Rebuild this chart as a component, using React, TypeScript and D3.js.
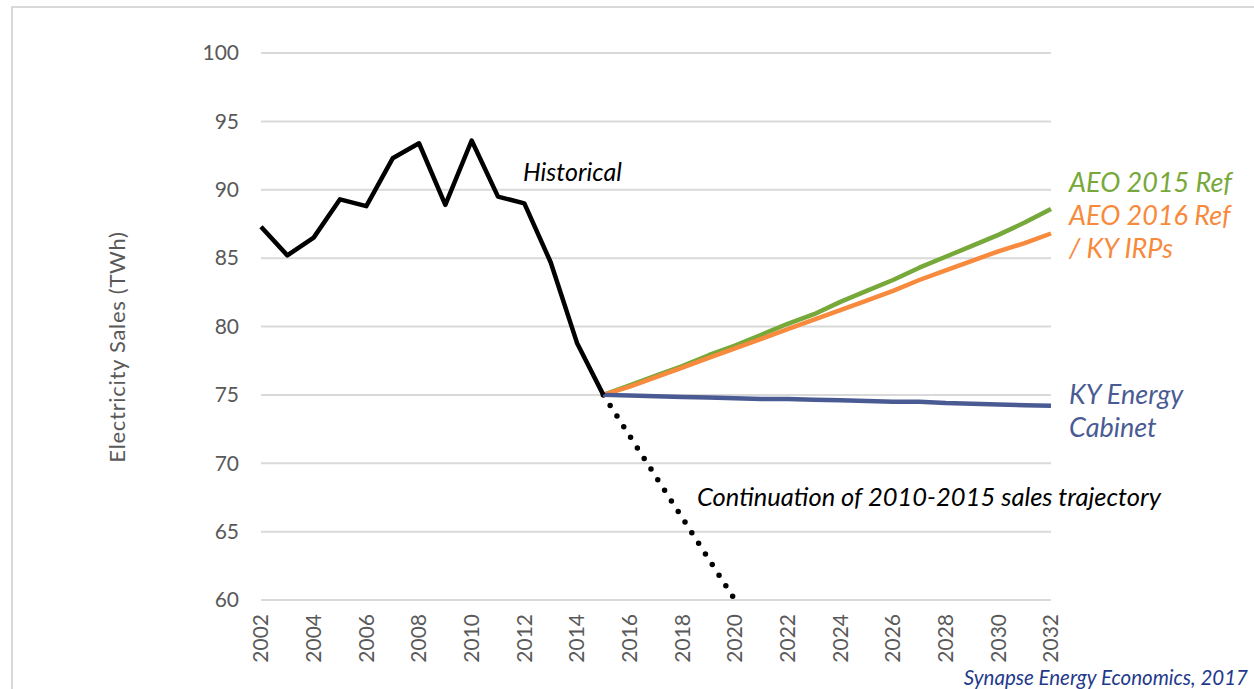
import React from "react";
import * as d3 from "d3";

const histYears = [2002, 2003, 2004, 2005, 2006, 2007, 2008, 2009, 2010, 2011, 2012, 2013, 2014, 2015];
const histValues = [87.3, 85.2, 86.5, 89.3, 88.8, 92.3, 93.4, 88.9, 93.6, 89.5, 89.0, 84.7, 78.8, 75.0];

const projYears = [2015, 2016, 2017, 2018, 2019, 2020, 2021, 2022, 2023, 2024, 2025, 2026, 2027, 2028, 2029, 2030, 2031, 2032];
const aeo2015 = [75.0, 75.7, 76.4, 77.1, 77.9, 78.6, 79.4, 80.2, 80.9, 81.8, 82.6, 83.4, 84.3, 85.1, 85.9, 86.7, 87.6, 88.6];
const aeo2016 = [75.0, 75.6, 76.3, 77.0, 77.7, 78.4, 79.1, 79.8, 80.5, 81.2, 81.9, 82.6, 83.4, 84.1, 84.8, 85.5, 86.1, 86.8];
const kyCabinet = [75.0, 74.95, 74.9, 74.85, 74.8, 74.75, 74.7, 74.7, 74.65, 74.6, 74.55, 74.5, 74.5, 74.4, 74.35, 74.3, 74.25, 74.2];

const trendYears = [2015, 2020];
const trendValues = [75.0, 60.0];

const yTicks = [60, 65, 70, 75, 80, 85, 90, 95, 100];
const xTicks = [2002, 2004, 2006, 2008, 2010, 2012, 2014, 2016, 2018, 2020, 2022, 2024, 2026, 2028, 2030, 2032];

const COLORS = {
  hist: "#000000",
  aeo15: "#77A83A",
  aeo16: "#F78A3C",
  ky: "#4A5B94",
  grid: "#D9D9D9",
  tick: "#595959",
  source: "#1F3A8C",
};

export default function App() {
  const W = 1254;
  const H = 689;
  const x = d3.scaleLinear().domain([2002, 2032]).range([261, 1051]);
  const y = d3.scaleLinear().domain([60, 100]).range([600, 53]);

  const line = (xs: number[], ys: number[]) =>
    d3
      .line<number>()
      .x((_, i) => x(xs[i]))
      .y((d) => y(d))(ys) as string;

  const tickFont = "Lato, 'Open Sans', sans-serif";
  const labelFont = "Lato, 'Open Sans', sans-serif";

  return (
    <svg
      width={W}
      height={H}
      style={{ position: "absolute", left: 0, top: 0, background: "#fff" }}
    >
      <rect x={12} y={7} width={1400} height={900} fill="none" stroke="#D9D9D9" strokeWidth={2} />

      {yTicks.map((t) => (
        <g key={t}>
          <line x1={261} x2={1051} y1={y(t)} y2={y(t)} stroke={COLORS.grid} strokeWidth={2} />
          <text
            x={239}
            y={y(t)}
            dy="0.35em"
            textAnchor="end"
            fontFamily={tickFont}
            fontSize={21}
            fill={COLORS.tick}
          >
            {t}
          </text>
        </g>
      ))}

      {xTicks.map((t) => (
        <text
          key={t}
          transform={`translate(${x(t)},614) rotate(-90)`}
          textAnchor="end"
          dy="0.35em"
          fontFamily={tickFont}
          fontSize={21}
          fill={COLORS.tick}
        >
          {t}
        </text>
      ))}

      <text
        transform={`translate(117,347) rotate(-90)`}
        textAnchor="middle"
        dy="0.35em"
        fontFamily={tickFont}
        fontSize={22}
        letterSpacing={0.7}
        fill={COLORS.tick}
      >
        Electricity Sales (TWh)
      </text>

      <path
        d={line(trendYears, trendValues)}
        fill="none"
        stroke="#000"
        strokeWidth={5.5}
        strokeLinecap="round"
        strokeDasharray="0 12.6"
        strokeDashoffset={-12.6}
      />
      <path d={line(projYears, aeo2015)} fill="none" stroke={COLORS.aeo15} strokeWidth={4.5} strokeLinejoin="round" />
      <path d={line(projYears, aeo2016)} fill="none" stroke={COLORS.aeo16} strokeWidth={4.5} strokeLinejoin="round" />
      <path d={line(projYears, kyCabinet)} fill="none" stroke={COLORS.ky} strokeWidth={4.5} strokeLinejoin="round" />
      <path d={line(histYears, histValues)} fill="none" stroke={COLORS.hist} strokeWidth={4.5} strokeLinejoin="round" />

      <g fontFamily={labelFont} fontStyle="italic">
        <text x={523} y={181} fontSize={25} fill="#000">Historical</text>
        <text x={697} y={506} fontSize={25.5} fill="#000">Continuation of 2010-2015 sales trajectory</text>
        <text x={1069} y={192} fontSize={27} fill={COLORS.aeo15}>AEO 2015 Ref</text>
        <text x={1069} y={225} fontSize={27} fill={COLORS.aeo16}>AEO 2016 Ref</text>
        <text x={1069} y={258} fontSize={27} fill={COLORS.aeo16}>/ KY IRPs</text>
        <text x={1069} y={404} fontSize={27} fill={COLORS.ky}>KY Energy</text>
        <text x={1069} y={437} fontSize={27} fill={COLORS.ky}>Cabinet</text>
        <text x={1248} y={685} fontSize={20.5} textAnchor="end" fill={COLORS.source}>Synapse Energy Economics, 2017</text>
      </g>
    </svg>
  );
}
